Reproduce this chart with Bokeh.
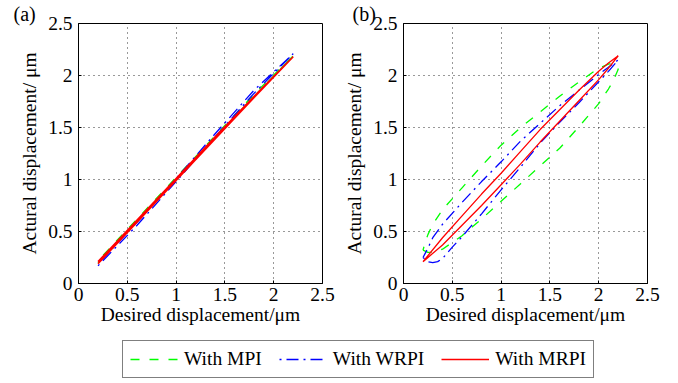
from bokeh.plotting import figure
from bokeh.models import Range1d, FixedTicker, Legend, LegendItem, NumeralTickFormatter
from bokeh.layouts import column, row
from bokeh.embed import file_html
from bokeh.resources import INLINE

FONT = "Liberation Serif"
FS = "19.5px"
GREEN, BLUE, RED = "#00FF00", "#0000FF", "#FF0000"
DASH_MPI, DASH_WRPI = "9 10", "2 5 12 5"

tick_vals = [0, 0.5, 1, 1.5, 2, 2.5]

# ---- panel (a) ----
a_x = [0.2, 0.6, 1.0, 1.4, 1.8, 2.2]
a_mpi_lower = [0.20, 0.60, 1.00, 1.40, 1.80, 2.19]
a_mpi_upper = [0.22, 0.62, 1.02, 1.42, 1.82, 2.19]
a_wrpi_lower = [0.17, 0.56, 0.98, 1.41, 1.83, 2.21]
a_wrpi_upper = [0.19, 0.59, 1.01, 1.44, 1.86, 2.21]
a_mrpi_lower = [0.19, 0.59, 0.99, 1.39, 1.79, 2.18]
a_mrpi_upper = [0.21, 0.61, 1.01, 1.41, 1.80, 2.18]

# ---- panel (b) ----
b_mpi_lower_x = [0.20, 0.25, 0.30, 0.40, 0.60, 0.80, 1.00, 1.20, 1.40, 1.60, 1.80, 2.00, 2.10, 2.15, 2.20]
b_mpi_lower_y = [0.32, 0.30, 0.30, 0.33, 0.46, 0.62, 0.79, 0.96, 1.13, 1.30, 1.51, 1.73, 1.87, 1.95, 2.06]
b_mpi_upper_x = [0.20, 0.22, 0.25, 0.30, 0.40, 0.60, 0.80, 1.00, 1.20, 1.40, 1.60, 1.80, 2.00, 2.10, 2.15, 2.20]
b_mpi_upper_y = [0.32, 0.39, 0.47, 0.57, 0.71, 0.92, 1.13, 1.33, 1.50, 1.65, 1.80, 1.94, 2.07, 2.11, 2.12, 2.06]

b_wrpi_lower_x = [0.20, 0.25, 0.30, 0.35, 0.40, 0.50, 0.60, 0.80, 1.00, 1.20, 1.40, 1.60, 1.80, 2.00, 2.10, 2.20]
b_wrpi_lower_y = [0.25, 0.21, 0.20, 0.21, 0.24, 0.35, 0.45, 0.67, 0.90, 1.12, 1.35, 1.55, 1.74, 1.94, 2.04, 2.15]
b_wrpi_upper_x = [0.20, 0.25, 0.30, 0.40, 0.60, 0.80, 1.00, 1.20, 1.40, 1.60, 1.80, 2.00, 2.10, 2.20]
b_wrpi_upper_y = [0.25, 0.34, 0.44, 0.57, 0.78, 0.98, 1.17, 1.37, 1.54, 1.71, 1.86, 2.01, 2.08, 2.15]

b_mrpi_x = [0.2, 0.4, 0.6, 0.8, 1.0, 1.2, 1.4, 1.6, 1.8, 2.0, 2.1, 2.2]
b_mrpi_upper = [0.21, 0.44, 0.65, 0.86, 1.06, 1.27, 1.48, 1.67, 1.86, 2.04, 2.12, 2.19]
b_mrpi_lower = [0.21, 0.37, 0.56, 0.75, 0.95, 1.15, 1.36, 1.56, 1.76, 1.96, 2.07, 2.19]

series_names = ["With MPI", "With WRPI", "With MRPI"]
panel_tags = ["(a)", "(b)"]


def loop(xl, yl, xu, yu):
    return list(xl) + list(xu)[::-1], list(yl) + list(yu)[::-1]


def make_panel(tag, left, width):
    p = figure(width=width, height=333, x_range=Range1d(0, 2.5), y_range=Range1d(0, 2.5),
               output_backend="svg", toolbar_location=None,
               min_border_left=left, min_border_right=width - left - 244,
               min_border_top=23, min_border_bottom=50)
    p.outline_line_color = "black"
    p.outline_line_width = 1
    p.background_fill_color = "white"
    for ax in (p.xaxis, p.yaxis):
        ax.ticker = FixedTicker(ticks=tick_vals)
        ax.formatter = NumeralTickFormatter(format="0.[0]")
        ax.major_tick_in = 3
        ax.major_tick_out = 0
        ax.minor_tick_line_color = None
        ax.axis_line_color = "black"
        ax.major_tick_line_color = "black"
        ax.major_label_text_font = FONT
        ax.major_label_text_font_size = FS
        ax.major_label_text_color = "black"
        ax.axis_label_text_font = FONT
        ax.axis_label_text_font_size = FS
        ax.axis_label_text_font_style = "normal"
        ax.axis_label_text_color = "black"
    p.xaxis.major_label_standoff = 4
    p.xaxis.axis_label_standoff = 0
    p.yaxis.major_label_standoff = 6
    p.yaxis.axis_label_standoff = 5
    p.xaxis.axis_label = "Desired displacement/μm"
    p.yaxis.axis_label = "Actural displacement/ μm"
    p.grid.grid_line_color = "black"
    p.grid.grid_line_dash = "1 4"
    p.grid.grid_line_alpha = 0.8
    p.grid.ticker = FixedTicker(ticks=tick_vals)
    p.title.text = tag
    p.title.text_font = FONT
    p.title.text_font_size = "20px"
    p.title.text_font_style = "normal"
    p.title.text_color = "black"
    p.title.align = "left"
    p.title.offset = -(left - 13)
    p.title.standoff = -3
    return p


pa = make_panel(panel_tags[0], 78, 339)
xs, ys = loop(a_x, a_mpi_lower, a_x, a_mpi_upper)
pa.line(xs, ys, line_color=GREEN, line_width=1.3, line_dash=DASH_MPI)
xs, ys = loop(a_x, a_wrpi_lower, a_x, a_wrpi_upper)
pa.line(xs, ys, line_color=BLUE, line_width=1.3, line_dash=DASH_WRPI)
xs, ys = loop(a_x, a_mrpi_lower, a_x, a_mrpi_upper)
pa.line(xs, ys, line_color=RED, line_width=1.6)

pb = make_panel(panel_tags[1], 64, 339)
xs, ys = loop(b_mpi_lower_x, b_mpi_lower_y, b_mpi_upper_x, b_mpi_upper_y)
pb.line(xs, ys, line_color=GREEN, line_width=1.3, line_dash=DASH_MPI)
xs, ys = loop(b_wrpi_lower_x, b_wrpi_lower_y, b_wrpi_upper_x, b_wrpi_upper_y)
pb.line(xs, ys, line_color=BLUE, line_width=1.3, line_dash=DASH_WRPI)
xs, ys = loop(b_mrpi_x, b_mrpi_lower, b_mrpi_x, b_mrpi_upper)
pb.line(xs, ys, line_color=RED, line_width=1.3)

# ---- legend strip (its lines reuse panel (b) data, drawn outside the visible range) ----
pl = figure(width=678, height=50, x_range=Range1d(10, 11), y_range=Range1d(10, 11),
            x_axis_type=None, y_axis_type=None, output_backend="svg",
            toolbar_location=None, min_border=0)
pl.outline_line_color = None
pl.grid.visible = False
r1 = pl.line(b_mrpi_x, b_mrpi_upper, line_color=GREEN, line_width=1.3, line_dash=DASH_MPI)
r2 = pl.line(b_mrpi_x, b_mrpi_upper, line_color=BLUE, line_width=1.3, line_dash=DASH_WRPI)
r3 = pl.line(b_mrpi_x, b_mrpi_upper, line_color=RED, line_width=1.3)
leg = Legend(items=[LegendItem(label=n, renderers=[r]) for n, r in zip(series_names, [r1, r2, r3])],
             location=(122, 5), orientation="horizontal", glyph_width=48, glyph_height=20,
             label_standoff=6, spacing=17, padding=7, margin=0,
             border_line_color="black", border_line_width=1,
             label_text_font=FONT, label_text_font_size=FS, label_text_color="black")
pl.add_layout(leg)

layout = column(row(pa, pb), pl)
open("out.html", "w").write(file_html(layout, INLINE))
